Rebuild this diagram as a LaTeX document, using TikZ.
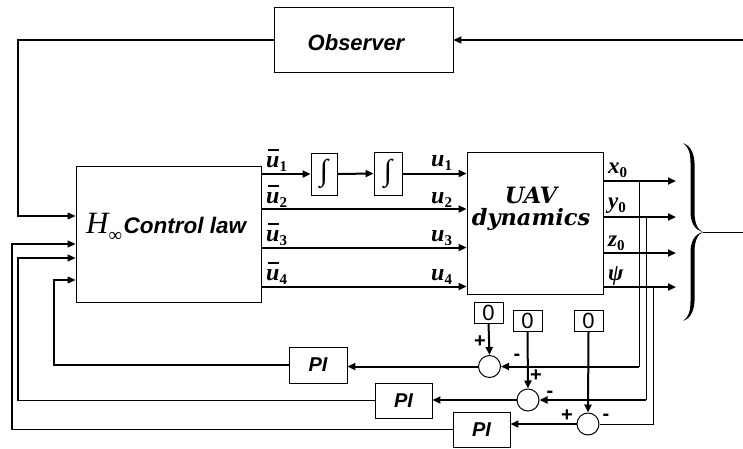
\documentclass[tikz,border=0pt]{standalone}
\usepackage{fontspec}
\setmainfont{Liberation Sans}
\newfontfamily\tnr{Liberation Serif}
\newfontfamily\slab{DejaVu Serif}
\usetikzlibrary{arrows.meta,calc}
\newcommand{\myfs}[1]{\fontsize{#1}{#1}\selectfont}
\newcommand{\bu}{{\tnr\bfseries\itshape u}}
\newcommand{\mysubs}[1]{\raisebox{-0.35ex}{\tnr\bfseries\myfs{15}#1}}
\newcommand{\ulab}[1]{{\myfs{24}\bu\mysubs{#1}}}
\newcommand{\ubarlab}[1]{{\myfs{24}\makebox[0pt][l]{\hspace{2pt}\rule[16.5pt]{11pt}{1.8pt}}\bu\mysubs{#1}}}
\newcommand{\olab}[1]{{\myfs{23}{\tnr\bfseries\itshape #1}\mysubs{0}}}
\tikzset{
 box/.style={draw, line width=0.9pt, inner sep=0pt},
 sig/.style={line width=2pt, -{Triangle[length=8pt,width=7pt]}},
 fba/.style={line width=1.2pt, -{Triangle[length=8pt,width=7pt]}},
 thinl/.style={line width=1pt},
 sumc/.style={circle, draw, line width=1pt, minimum size=22pt, inner sep=0pt},
 zbox/.style={box, minimum width=29pt, minimum height=21pt, font=\myfs{22}},
 pibox/.style={box, minimum width=57pt, minimum height=35pt, font=\myfs{20}\bfseries\itshape},
 sgn/.style={font=\myfs{20}\bfseries, inner sep=0pt},
 intbox/.style={box, font=\tnr\myfs{30}},
}
\begin{document}
\begin{tikzpicture}[x=1pt,y=-1pt]
\useasboundingbox (0,0) rectangle (743,448);
% blocks
\node[box,minimum width=179pt,minimum height=65pt] (obs) at (363.5,40) {};
\node[font=\myfs{22}\bfseries\itshape] (obsT) at (356,43) {Observer};
\node[box,minimum width=185pt,minimum height=136pt] (ctl) at (168.5,234) {};
\node[anchor=base west, inner sep=0pt] (ctlT) at (86,233) {{\tnr\itshape\myfs{31}H}\raisebox{-8pt}{\tnr\myfs{19}∞}\hspace{1.5pt}{\myfs{22.5}\bfseries\itshape Control law}};
\node[box,minimum width=136pt,minimum height=142pt] (uav) at (535,223) {};
\node[align=center, font=\slab\bfseries\itshape\myfs{22.5}, inner sep=0pt] (uavT) at (531,209) {UAV\\[-1pt]dynamics};
\node[intbox,minimum width=26pt,minimum height=42pt] (I1) at (324,174) {∫};
\node[intbox,minimum width=28pt,minimum height=43pt] (I2) at (388,173.5) {∫};
\node[zbox] (Z1) at (488.5,312.5) {0};
\node[zbox] (Z2) at (527.5,320.5) {0};
\node[zbox] (Z3) at (588.5,320.5) {0};
\node[sumc] (C1) at (489.5,366.5) {};
\node[sumc] (C2) at (528,400) {};
\node[sumc] (C3) at (588,424) {};
\node[pibox, minimum width=58pt, minimum height=36pt] (P1) at (318,365) {PI};
\node[pibox] (P2) at (403.5,400.5) {PI};
\node[pibox] (P3) at (481.5,429.5) {PI};
% level coordinates
\coordinate (y2) at (0,209);
\coordinate (y3) at (0,247.5);
\coordinate (y4) at (0,286.5);
\coordinate (o1) at (676,181);
\coordinate (o2) at (676,217);
\coordinate (o3) at (676,253);
\coordinate (o4) at (676,287);
\coordinate (t1) at (639,181);
\coordinate (t2) at (646,217);
\coordinate (t3) at (653,287);
\coordinate (k1) at (54,280);
\coordinate (k2) at (18,258);
\coordinate (k3) at (12,244);
\coordinate (k0) at (18,216);
\coordinate (inp) at (743,40);
\coordinate (bt) at (703,232);
\coordinate (outp) at (743,232);
% observer
\draw[sig] (inp) -- (obs.east);
\draw[fba] (obs.west) -| (k0) -- (k0 -| ctl.west);
% control signals
\draw[sig] (ctl.east |- I1.west) -- (I1.west);
\draw[sig] (I1.east) -- (I2.west);
\draw[sig] (I2.east) -- (I2.east -| uav.west);
\draw[sig] (ctl.east |- y2) -- (uav.west |- y2);
\draw[sig] (ctl.east |- y3) -- (uav.west |- y3);
\draw[sig] (ctl.east |- y4) -- (uav.west |- y4);
% outputs
\draw[sig] (uav.east |- o1) -- (o1);
\draw[sig] (uav.east |- o2) -- (o2);
\draw[sig] (uav.east |- o3) -- (o3);
\draw[sig] (uav.east |- o4) -- (o4);
% brace (filled, two mirrored halves)
\fill (683,143) .. controls (689,145) and (694,151) .. (694.5,163) -- (694.5,212)
  .. controls (694.5,224) and (698,230) .. (703,232)
  .. controls (695,230) and (690.5,223) .. (690.5,212) -- (690.5,163)
  .. controls (690.5,152) and (688,146.5) .. (683,143) -- cycle;
\begin{scope}[shift={(0,464)}, yscale=-1]
\fill (683,143) .. controls (689,145) and (694,151) .. (694.5,163) -- (694.5,212)
  .. controls (694.5,224) and (698,230) .. (703,232)
  .. controls (695,230) and (690.5,223) .. (690.5,212) -- (690.5,163)
  .. controls (690.5,152) and (688,146.5) .. (683,143) -- cycle;
\end{scope}
\draw[thinl] (bt) -- (outp);
% taps
\draw[thinl] (t1) -- (t1 |- C1);
\draw[sig] (t1 |- C1) -- (C1.east);
\draw[thinl] (t2) -- (t2 |- C2);
\draw[sig] (t2 |- C2) -- (C2.east);
\draw[thinl] (t3) -- (t3 |- C3) -- (C3.east);
% references
\draw[sig] (Z1.south) -- (C1.north);
\draw[sig] (Z2.south) -- (C2.north);
\draw[sig] (Z3.south) -- (C3.north);
% errors to PI
\draw[sig] (C1.west) -- (C1.west -| P1.east);
\draw[sig] (C2.west) -- (C2.west -| P2.east);
\draw[sig] (C3.west) -- (C3.west -| P3.east);
% PI to controller
\draw[fba] (P1.west) -| (k1) -- (k1 -| ctl.west);
\draw[fba] (P2.west) -| (k2) -- (k2 -| ctl.west);
\draw[fba] (P3.west) -| (k3) -- (k3 -| ctl.west);
% signs
\node[sgn] (s1p) at (480,342) {+};
\node[sgn] (s1m) at (517,357) {-};
\node[sgn] (s2p) at (536,376) {+};
\node[sgn] (s2m) at (550,394) {-};
\node[sgn] (s3p) at (567,416) {+};
\node[sgn] (s3m) at (606,417) {-};
% labels
\node[anchor=base west, inner sep=0pt] (lb1) at (266,167) {\ubarlab{1}};
\node[anchor=base west, inner sep=0pt] (lb2) at (266,203) {\ubarlab{2}};
\node[anchor=base west, inner sep=0pt] (lb3) at (266,241.5) {\ubarlab{3}};
\node[anchor=base west, inner sep=0pt] (lb4) at (266,280.5) {\ubarlab{4}};
\node[anchor=base west, inner sep=0pt] (lu1) at (431,166) {\ulab{1}};
\node[anchor=base west, inner sep=0pt] (lu2) at (431,203) {\ulab{2}};
\node[anchor=base west, inner sep=0pt] (lu3) at (431,241.5) {\ulab{3}};
\node[anchor=base west, inner sep=0pt] (lu4) at (431,280.5) {\ulab{4}};
\node[anchor=base west, inner sep=0pt] (lx) at (608,173) {\olab{x}};
\node[anchor=base west, inner sep=0pt] (ly) at (608,208) {\olab{y}};
\node[anchor=base west, inner sep=0pt] (lz) at (608,246) {\olab{z}};
\node[anchor=base west, inner sep=0pt] (lpsi) at (608,280) {{\myfs{23}\tnr\bfseries\itshape ψ}};
\end{tikzpicture}
\end{document}
